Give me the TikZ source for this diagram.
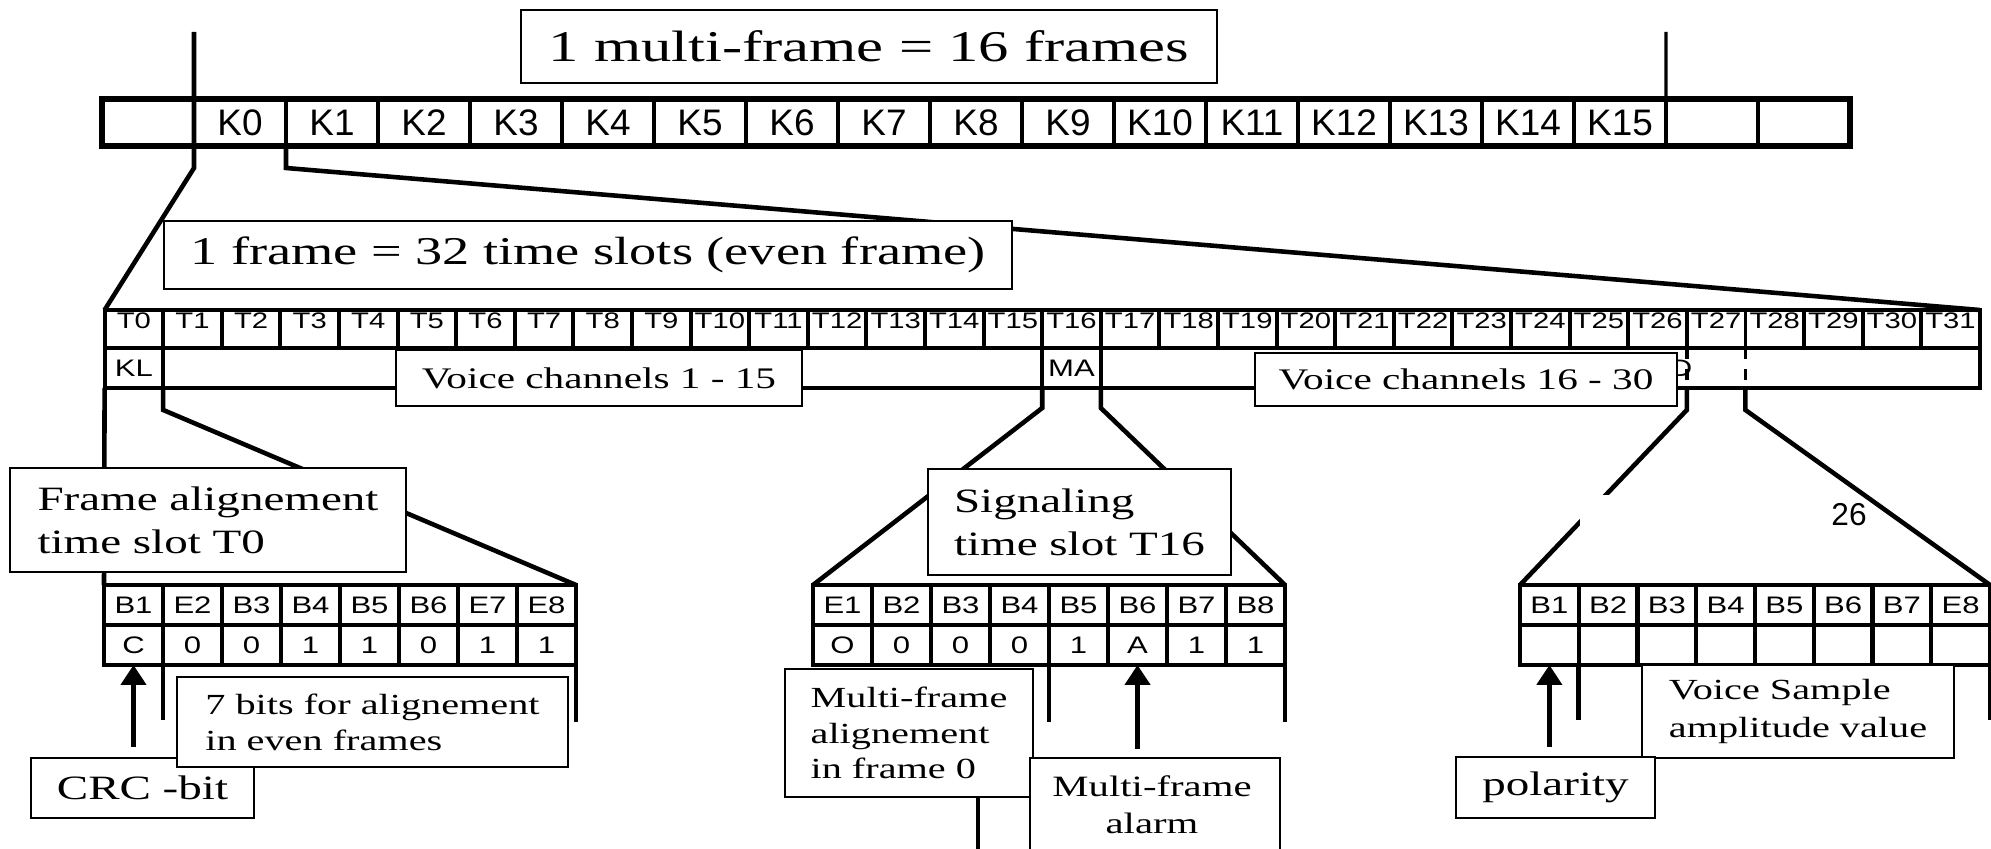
\documentclass[tikz,border=0pt]{standalone}
\usepackage{fontspec}
\setmainfont{Liberation Serif}
\newfontfamily\wideserif{Liberation Serif}[FakeStretch=1.38]
\newfontfamily\widesans{Liberation Sans}[FakeStretch=1.3]
\newfontfamily\plainsans{Liberation Sans}
\usetikzlibrary{arrows.meta}

\tikzset{
  kcell/.style={draw, line width=1.2pt, minimum width=9.2mm, minimum height=4.7mm,
    inner sep=0pt, outer sep=0pt, font=\plainsans\fontsize{10.5}{10.5}\selectfont},
  tcell/.style={draw, line width=1.1pt, minimum width=5.86mm, minimum height=3.8mm,
    inner sep=0pt, outer sep=0pt, text height=4.6pt, text depth=4.6pt,
    font=\widesans\fontsize{6.4}{6.4}\selectfont},
  lcell/.style={draw, line width=1.1pt, minimum width=5.86mm, minimum height=4mm,
    inner sep=0pt, outer sep=0pt, font=\widesans\fontsize{6.8}{6.8}\selectfont},
  bcell/.style={draw, line width=1.2pt, minimum width=5.9mm, minimum height=4mm,
    inner sep=0pt, outer sep=0pt, font=\widesans\fontsize{6.8}{6.8}\selectfont},
  conn/.style={line width=1.3pt},
  ptr/.style={line width=1.3pt, -{Triangle[width=2.5mm,length=2mm]}},
  tbox/.style={draw, fill=white, line width=0.6pt, inner sep=0pt, outer sep=0pt,
    align=left, font=\wideserif\fontsize{9.7}{12.2}\selectfont}
}

\begin{document}
\begin{tikzpicture}[x=0.1mm, y=-0.1mm]

    \useasboundingbox (0,0) rectangle (1991,849);

    % Multi-frame: 16 frames K0 ... K15 and empty cells around them
    \node[kcell] (kpre) at (148,122.5) {};
    \foreach \i in {0,...,15}
        \node[kcell] (k\i) at ({240+92*\i},122.5) {K\i};
    \node[kcell] (kpost1) at (1712,122.5) {};
    \node[kcell] (kpost2) at (1804,122.5) {};
    \draw[line width=1.6pt] (kpre.north west) rectangle (kpost2.south east);

    % Multi-frame limits
    \coordinate (mfl) at (194,32);
    \coordinate (mfr) at (1666,32);
    \draw[line width=0.9pt] (mfr) -- (kpost1.north west);

    % Frame: 32 time slots T0 ... T31
    \foreach \i in {0,...,31}
        \node[tcell] (t\i) at ({133.9+58.6*\i},329) {T\i};
    \node[draw, line width=1.1pt, minimum width=187.5mm, minimum height=4mm,
        inner sep=0pt, outer sep=0pt] (lrow) at (1042.1,368) {};
    \node[lcell] (kl) at (t0 |- lrow) {KL};
    \node[lcell] (ma) at (t16 |- lrow) {MA};
    \node[font=\widesans\fontsize{6.8}{6.8}\selectfont, inner sep=0pt] (frag) at (1681,368) {D};
    \draw[dashed, line width=1pt] (t27.south west) -- (t27.south west |- lrow.south);
    \draw[dashed, line width=1pt] (t28.south west) -- (t28.south west |- lrow.south);

    % Zoom from K0 onto the frame
    \draw[conn] (mfl) -- (k0.south west) -- ++(0,22) -- (t0.north west);
    \draw[conn] (k1.south west) -- ++(0,22) -- (t31.north east);

    % Titles
    \node[tbox, minimum width=69.6mm, minimum height=7.3mm,
        font=\wideserif\fontsize{12.5}{15}\selectfont] (mftitle) at (869,46.5) {1 multi-frame = 16 frames};
    \node[tbox, minimum width=84.8mm, minimum height=6.8mm,
        font=\wideserif\fontsize{11.2}{13}\selectfont] (ftitle) at (588,255) {1 frame = 32 time slots (even frame)};

    % Voice channel labels over the lower row
    \node[tbox, minimum width=40.6mm, minimum height=5.6mm,
        font=\wideserif\fontsize{8.5}{10}\selectfont] (vc1) at (599,378) {Voice channels 1 - 15};
    \node[tbox, minimum width=42.2mm, minimum height=5.3mm,
        font=\wideserif\fontsize{8.5}{10}\selectfont] (vc2) at (1466,379.5) {Voice channels 16 - 30};

    % Time slot T0: frame alignement
    \foreach \b [count=\i] in {B1,E2,B3,B4,B5,B6,E7,E8}
        \node[bcell] (fa\i) at ({74.5+59*\i},605) {\b};
    \foreach \v [count=\i] in {C,0,0,1,1,0,1,1}
        \node[bcell] (fv\i) at ({74.5+59*\i},645) {\v};
    \draw[conn] (kl.south west) -- (fa1.north west);
    \draw[conn] (kl.south east) -- ++(0,22) -- (fa8.north east);
    \draw[ptr] (fv1.south) ++(0,82) -- (fv1.south);
    \draw[conn] (fv1.south east) -- ++(0,55);
    \draw[conn] (fv8.south east) -- ++(0,57);

    % Time slot T16: signaling
    \foreach \b [count=\i] in {E1,B2,B3,B4,B5,B6,B7,B8}
        \node[bcell] (sa\i) at ({783.5+59*\i},605) {\b};
    \foreach \v [count=\i] in {O,0,0,0,1,A,1,1}
        \node[bcell] (sv\i) at ({783.5+59*\i},645) {\v};
    \draw[conn] (ma.south west) -- ++(0,20) -- (sa1.north west);
    \draw[conn] (ma.south east) -- ++(0,20) -- (sa8.north east);
    \draw[ptr] (sv6.south) ++(0,84) -- (sv6.south);
    \draw[conn] (sv4.south east) -- ++(0,57);
    \draw[conn] (sv8.south east) -- ++(0,57);

    % Time slot T27: voice sample
    \foreach \b [count=\i] in {B1,B2,B3,B4,B5,B6,B7,E8}
        \node[bcell, minimum width=5.875mm] (va\i) at ({1490.625+58.75*\i},605) {\b};
    \foreach \i in {1,...,8}
        \node[bcell, minimum width=5.875mm] (vv\i) at ({1490.625+58.75*\i},645) {};
    \draw[conn] (t27.south west |- lrow.south) -- ++(0,22) -- (va1.north west);
    \draw[conn] (t28.south west |- lrow.south) -- ++(0,22) -- (va8.north east);
    \draw[ptr] (vv1.south) ++(0,82) -- (vv1.south);
    \draw[conn] (vv1.south east) -- ++(0,55);
    \draw[conn] (vv8.south east) -- ++(0,55);
    \fill[white] (1580,495) rectangle (1831,565);
    \node[font=\plainsans\fontsize{9}{9}\selectfont, inner sep=0pt] (slot26) at (1849,515) {26};

    % Explanations
    \node[tbox, minimum width=39.6mm, minimum height=10.4mm] (fabox) at (208,520) {Frame alignement\\time slot T0};
    \node[tbox, minimum width=22.3mm, minimum height=6mm] (crcbox) at (142.5,788) {CRC -bit};
    \node[tbox, minimum width=39.1mm, minimum height=9mm,
        font=\wideserif\fontsize{8.3}{10.2}\selectfont] (sevenbox) at (372.5,722) {7 bits for alignement\\in even frames};
    \node[tbox, minimum width=30.3mm, minimum height=10.6mm] (sigbox) at (1079.5,522) {Signaling\\time slot T16};
    \node[tbox, minimum width=24.8mm, minimum height=12.8mm,
        font=\wideserif\fontsize{8.3}{10}\selectfont] (mfa) at (909,733) {Multi-frame\\alignement\\in frame 0};
    \draw[conn] (mfa.south east) ++(-55,0) -- ++(0,60);
    \node[tbox, anchor=north, minimum width=25mm, minimum height=14mm] (alarm) at (1155,758) {};
    \node[align=center, inner sep=0pt, font=\wideserif\fontsize{8.4}{10.5}\selectfont] (alarmtxt) at (1152,805) {Multi-frame\\alarm};
    \node[tbox, minimum width=31.2mm, minimum height=9.3mm,
        font=\wideserif\fontsize{8.3}{10.8}\selectfont] (vsbox) at (1798,711.5) {Voice Sample\\amplitude value};
    \node[tbox, minimum width=19.9mm, minimum height=6.1mm] (polbox) at (1555.5,787.5) {polarity};

\end{tikzpicture}
\end{document}
